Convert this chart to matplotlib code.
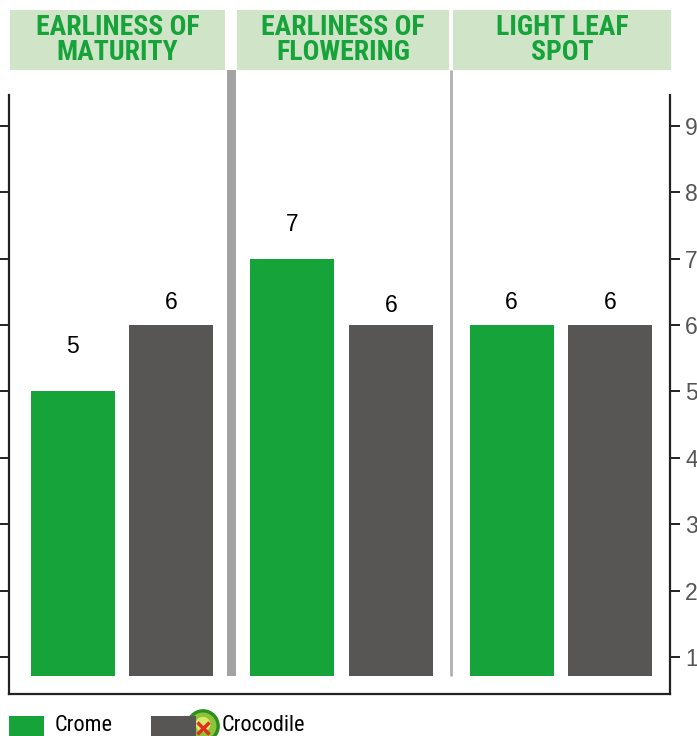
import matplotlib.pyplot as plt
from matplotlib.patches import Rectangle, Circle

# data
categories = ["EARLINESS OF\nMATURITY", "EARLINESS OF\nFLOWERING", "LIGHT LEAF\nSPOT"]
crome = [5, 7, 6]
crocodile = [6, 6, 6]
series_names = ["Crome", "Crocodile"]
yticks = [1, 2, 3, 4, 5, 6, 7, 8, 9]

GREEN = "#16a33a"
GREY = "#575655"
HEAD_BG = "#d0e4c8"
NARROW = ["Roboto Condensed", "Liberation Sans Narrow", "Lato", "DejaVu Sans"]
ARIAL = ["Liberation Sans", "DejaVu Sans"]

W, H = 697, 736
fig = plt.figure(figsize=(W / 100, H / 100), dpi=100)


def fx(px):
    return px / W


def fy(py):
    return 1 - py / H


ax = fig.add_axes([fx(9), fy(694), fx(670) - fx(9), fy(95) - fy(694)])
ax.set_xlim(-0.515, 2.497)
ax.set_ylim(0.443, 9.464)

base = 0.71
width = 0.383
off = 0.225
x = list(range(len(categories)))
ax.bar([i - off for i in x], [v - base for v in crome], width, bottom=base, color=GREEN)
ax.bar([i + off for i in x], [v - base for v in crocodile], width, bottom=base, color=GREY)

# value labels (pixel offsets above the bar top)
lab_off = [[45, 34, 23], [23, 20, 23]]
for s, vals in enumerate([crome, crocodile]):
    for i, v in enumerate(vals):
        xi = i - off if s == 0 else i + off
        ax.annotate(str(v), (xi, v), xytext=(0, lab_off[s][i] * 0.72),
                    textcoords="offset points", ha="center", va="center",
                    fontsize=16.5, family=ARIAL, color="black")

# group separators
tr = ax.get_xaxis_transform()
ax.add_patch(Rectangle((0.5 - 0.021, 0.030), 0.042, 1.042 - 0.030, transform=tr,
                       color="#a3a3a3", clip_on=False, lw=0))
ax.plot([1.5, 1.5], [0.030, 1.042], transform=tr, color="#b0b0b0", lw=2,
        clip_on=False, solid_capstyle="butt")

ax.spines["top"].set_visible(False)
for sp in ["left", "right", "bottom"]:
    ax.spines[sp].set_linewidth(1.6)
    ax.spines[sp].set_color("#222222")
ax.set_xticks([])
ax.set_yticks(yticks)
ax.tick_params(axis="y", left=True, right=True, labelleft=False, labelright=True,
               direction="out", length=7, width=1.4, pad=4, labelsize=16.5,
               labelcolor="#555555", color="#222222")
for t in ax.get_yticklabels():
    t.set_family(ARIAL)

# header boxes
heads = [(10, 225), (237, 449), (453, 671)]
for (x0, x1), name in zip(heads, categories):
    fig.patches.append(Rectangle((fx(x0), fy(70)), fx(x1) - fx(x0), fy(10) - fy(70),
                                 transform=fig.transFigure, color=HEAD_BG, lw=0))
    fig.text(fx((x0 + x1) / 2), fy(40), name, ha="center", va="center",
             fontsize=20, fontweight="bold", color=GREEN, family=NARROW,
             fontstretch="condensed", linespacing=0.95)

# legend
fig.patches.append(Rectangle((fx(9), fy(740)), fx(44) - fx(9), fy(716) - fy(740),
                             transform=fig.transFigure, color=GREEN, lw=0))
fig.text(fx(55), fy(731), series_names[0], ha="left", va="baseline", fontsize=16,
         family=NARROW, color="black")
fig.patches.append(Rectangle((fx(151), fy(740)), fx(196) - fx(151), fy(716) - fy(740),
                             transform=fig.transFigure, color=GREY, lw=0))
icon = fig.add_axes([fx(186), fy(743), fx(220) - fx(186), fy(709) - fy(743)])
icon.set_xlim(-1, 1)
icon.set_ylim(-1, 1)
icon.set_aspect("equal")
icon.axis("off")
icon.add_patch(Circle((0, 0), 0.95, color="#2f8f1e"))
icon.add_patch(Circle((0, 0), 0.75, color="#8cc43c"))
icon.add_patch(Circle((0, 0.1), 0.4, color="#d7e86a"))
icon.plot([0], [-0.1], marker="x", color="#e03020", ms=8, mew=2.5)
fig.text(fx(222), fy(731), series_names[1], ha="left", va="baseline", fontsize=16,
         family=NARROW, color="black")

fig.savefig("out.png", dpi=100)
